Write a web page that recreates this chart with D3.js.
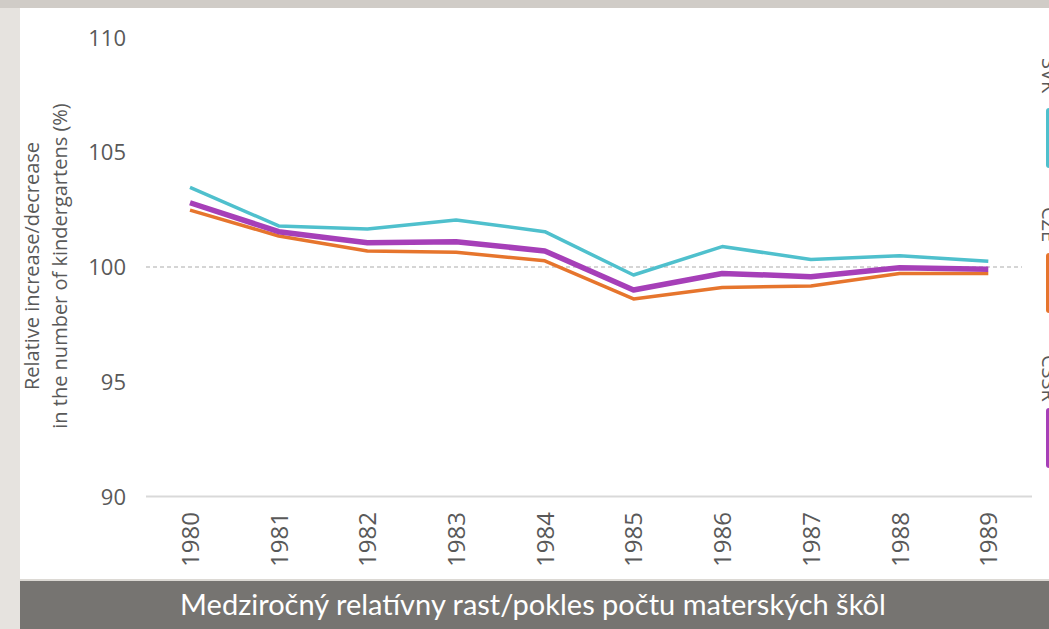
<!DOCTYPE html>
<html>
<head>
<meta charset="utf-8">
<script src="https://cdn.jsdelivr.net/npm/d3@7"></script>
<style>
  body { margin: 0; background: #e6e3df; }
  svg { display: block; }
</style>
</head>
<body>
<svg width="1049" height="629"></svg>
<script>
const years = [1980, 1981, 1982, 1983, 1984, 1985, 1986, 1987, 1988, 1989];
const svk = [103.47, 101.79, 101.66, 102.05, 101.54, 99.65, 100.89, 100.33, 100.49, 100.25];
const cze = [102.48, 101.35, 100.70, 100.64, 100.27, 98.61, 99.11, 99.17, 99.72, 99.72];
const cssr = [102.80, 101.54, 101.06, 101.10, 100.70, 99.00, 99.72, 99.58, 99.97, 99.90];
const yTicks = [90, 95, 100, 105, 110];
const seriesNames = ["SVK", "CZE", "ČSSR"];

const series = [
  { name: seriesNames[0], values: svk, color: "#4fc0cd", width: 3.5 },
  { name: seriesNames[1], values: cze, color: "#e6752d", width: 3.5 },
  { name: seriesNames[2], values: cssr, color: "#a63fb8", width: 5.5 }
];

const svg = d3.select("svg");
const width = +svg.attr("width");
const height = +svg.attr("height");

// page background: top strip, white panel, caption bar
svg.append("rect").attr("width", width).attr("height", height).attr("fill", "#e6e3df");
svg.append("rect").attr("width", width).attr("height", 8).attr("fill", "#d0ccc7");
svg.append("rect").attr("x", 20).attr("y", 8).attr("width", width - 20).attr("height", 571).attr("fill", "#ffffff");
svg.append("rect").attr("x", 20).attr("y", 579).attr("width", width - 20).attr("height", 2).attr("fill", "#dcd9d4");
svg.append("rect").attr("x", 20).attr("y", 581).attr("width", width - 20).attr("height", 48).attr("fill", "#767471");

svg.append("text")
  .attr("x", 533)
  .attr("y", 615)
  .attr("text-anchor", "middle")
  .attr("fill", "#ffffff")
  .style("font-family", "Lato, 'Open Sans', sans-serif")
  .style("font-size", "29px")
  .text("Medziročný relatívny rast/pokles počtu materských škôl");

const xScale = d3.scalePoint()
  .domain(years)
  .range([190, 988.3]);

const yScale = d3.scaleLinear()
  .domain([90, 110])
  .range([496.5, 37.5]);

const g = svg.append("g");

// y axis labels only
const yAxis = d3.axisLeft(yScale).tickValues(yTicks).tickSize(0).tickPadding(0);
const yAxisG = g.append("g")
  .attr("transform", "translate(126,0)")
  .call(yAxis);
yAxisG.select(".domain").remove();
yAxisG.selectAll("text")
  .attr("fill", "#595959")
  .attr("dy", "0.35em")
  .style("font-family", "'Open Sans', sans-serif")
  .style("font-size", "22px");

// baseline and reference line
g.append("line")
  .attr("x1", 146).attr("x2", 1032)
  .attr("y1", yScale(90)).attr("y2", yScale(90))
  .attr("stroke", "#d9d9d9").attr("stroke-width", 2);
g.append("line")
  .attr("x1", 146).attr("x2", 1022)
  .attr("y1", yScale(100)).attr("y2", yScale(100))
  .attr("stroke", "#c8c8c8").attr("stroke-width", 1.5)
  .attr("stroke-dasharray", "4,3");

// x axis labels, rotated
const xAxis = d3.axisBottom(xScale).tickSize(0).tickPadding(0);
const xAxisG = g.append("g")
  .attr("transform", "translate(0,512)")
  .call(xAxis);
xAxisG.select(".domain").remove();
xAxisG.selectAll("text")
  .attr("transform", "rotate(-90)")
  .attr("text-anchor", "end")
  .attr("x", 0)
  .attr("y", 0)
  .attr("dy", "0.35em")
  .attr("fill", "#595959")
  .style("font-family", "'Liberation Sans Narrow', 'Open Sans', sans-serif")
  .style("font-size", "24px");

// y axis title
const title = g.append("text")
  .attr("transform", "translate(32,266) rotate(-90)")
  .attr("text-anchor", "middle")
  .attr("fill", "#595959")
  .style("font-family", "'Open Sans', sans-serif")
  .style("font-size", "20px");
title.append("tspan").attr("x", 0).attr("dy", "0.35em").text("Relative increase/decrease");
title.append("tspan").attr("x", 0).attr("dy", "1.4em").text("in the number of kindergartens (%)");

// lines
const line = d3.line()
  .x((d, i) => xScale(years[i]))
  .y((d) => yScale(d));

g.selectAll(".series")
  .data(series)
  .enter()
  .append("path")
  .attr("class", "series")
  .attr("d", (d) => line(d.values))
  .attr("fill", "none")
  .attr("stroke", (d) => d.color)
  .attr("stroke-width", (d) => d.width)
  .attr("stroke-linejoin", "round");

// legend, rotated, clipped by the right edge as in the source
const legendPos = [
  { ty: 58, by: 108 },
  { ty: 207, by: 253 },
  { ty: 355, by: 408 }
];
const legend = g.selectAll(".legend")
  .data(series)
  .enter()
  .append("g")
  .attr("class", "legend");
legend.append("text")
  .attr("transform", (d, i) => `translate(1042,${legendPos[i].ty}) rotate(90)`)
  .attr("fill", "#595959")
  .style("font-family", "'Open Sans', sans-serif")
  .style("font-size", "20px")
  .text((d) => d.name);
legend.append("rect")
  .attr("x", 1046)
  .attr("y", (d, i) => legendPos[i].by)
  .attr("width", 20)
  .attr("height", 60)
  .attr("rx", 3)
  .attr("fill", (d) => d.color);
</script>
</body>
</html>
